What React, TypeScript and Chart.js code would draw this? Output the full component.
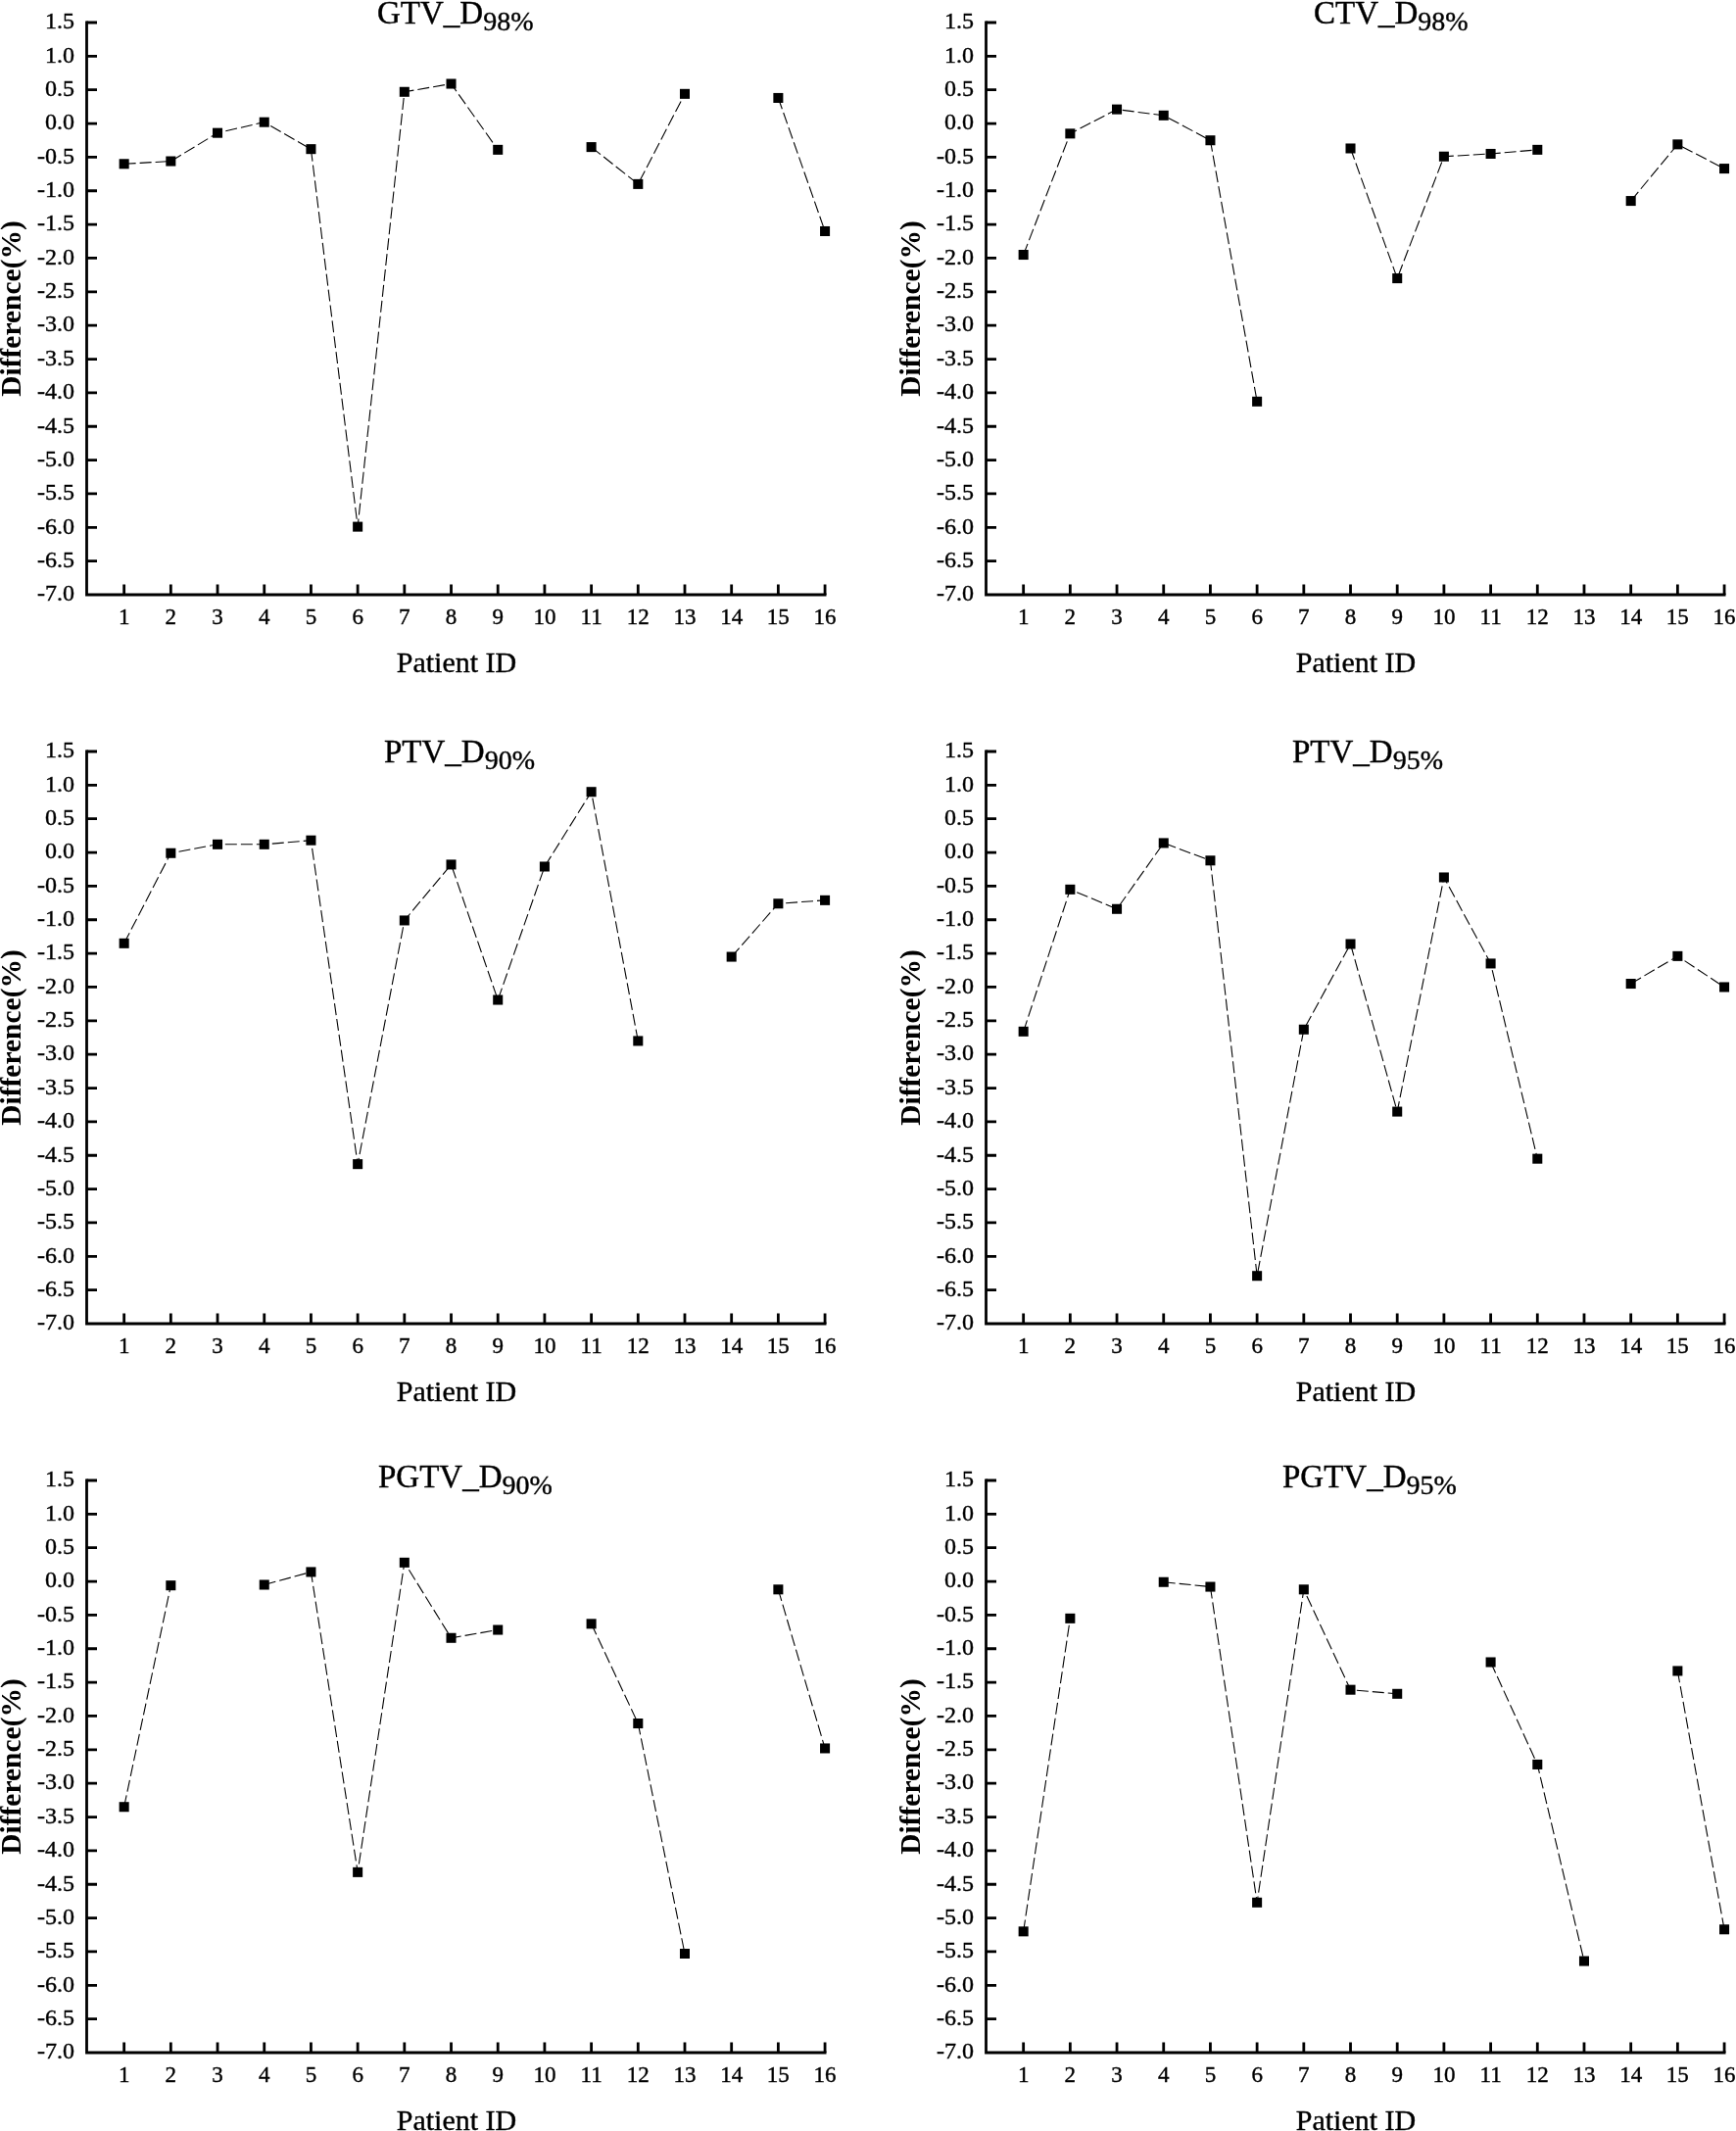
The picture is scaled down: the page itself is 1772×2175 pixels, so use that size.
import { useEffect, useRef } from "react";
import { Chart, registerables } from "chart.js";

Chart.register(...registerables);

// ---- data ----
const patientIds = [1, 2, 3, 4, 5, 6, 7, 8, 9, 10, 11, 12, 13, 14, 15, 16];

const gtvD98 = [-0.6, -0.56, -0.14, 0.02, -0.38, -5.99, 0.47, 0.59, -0.39, null, -0.35, -0.9, 0.44, null, 0.38, -1.6];
const ctvD98 = [-1.95, -0.15, 0.21, 0.12, -0.25, -4.13, null, -0.37, -2.3, -0.49, -0.45, -0.39, null, -1.15, -0.31, -0.67];
const ptvD90 = [-1.35, -0.01, 0.12, 0.12, 0.18, -4.63, -1.01, -0.18, -2.19, -0.21, 0.9, -2.8, null, -1.55, -0.76, -0.71];
const ptvD95 = [-2.66, -0.55, -0.84, 0.14, -0.12, -6.29, -2.63, -1.36, -3.85, -0.37, -1.65, -4.55, null, -1.95, -1.54, -2.0];
const pgtvD90 = [-3.35, -0.06, null, -0.05, 0.14, -4.32, 0.28, -0.84, -0.72, null, -0.63, -2.11, -5.53, null, -0.12, -2.48];
const pgtvD95 = [-5.2, -0.55, null, -0.01, -0.08, -4.77, -0.12, -1.61, -1.67, null, -1.2, -2.72, -5.64, null, -1.33, -5.17];

const Y_MIN = -7.0;
const Y_MAX = 1.5;
const X_MIN = 0.2;
const X_MAX = 16.03;

const FONT = "'Liberation Serif', 'Times New Roman', Times, serif";

// page layout (px)
const COL_X = [0, 886];
const PLOT_LEFT = [88.5, 1006.5];
const PLOT_W = 755;
const PLOT_TOP = [22.7, 766.8, 1510.7];
const PLOT_H = 584;
const CANVAS_W = 900;
const TOP_PAD = 40;
const BOTTOM_H = 100;
const CANVAS_H = TOP_PAD + PLOT_H + BOTTOM_H;

interface PanelSpec {
  main: string;
  sub: string;
  values: (number | null)[];
  col: number;
  row: number;
  titleX: number;
  titleDy: number;
}

const panels: PanelSpec[] = [
  { main: "GTV_D", sub: "98%", values: gtvD98, col: 0, row: 0, titleX: 385, titleDy: 0.5 },
  { main: "CTV_D", sub: "98%", values: ctvD98, col: 1, row: 0, titleX: 1341, titleDy: 0.5 },
  { main: "PTV_D", sub: "90%", values: ptvD90, col: 0, row: 1, titleX: 392, titleDy: 11 },
  { main: "PTV_D", sub: "95%", values: ptvD95, col: 1, row: 1, titleX: 1319, titleDy: 11 },
  { main: "PGTV_D", sub: "90%", values: pgtvD90, col: 0, row: 2, titleX: 386, titleDy: 7 },
  { main: "PGTV_D", sub: "95%", values: pgtvD95, col: 1, row: 2, titleX: 1309, titleDy: 7 },
];

function fillBold(ctx: CanvasRenderingContext2D, text: string, x: number, y: number) {
  ctx.fillText(text, x, y);
  ctx.strokeText(text, x, y);
}

// axes, inward tick marks, titles
function makeDecor(spec: PanelSpec) {
  const cx = COL_X[spec.col];
  return {
    id: "decor",
    afterDraw(chart: Chart) {
      const { ctx, chartArea: a } = chart;
      const xs = chart.scales.x;
      const ys = chart.scales.y;
      ctx.save();
      ctx.strokeStyle = "#000";
      ctx.fillStyle = "#000";
      ctx.lineWidth = 2.8;
      ctx.lineJoin = "miter";
      ctx.beginPath();
      ctx.moveTo(a.left, a.top - 1.4);
      ctx.lineTo(a.left, a.bottom);
      ctx.lineTo(a.right, a.bottom);
      ctx.stroke();

      ctx.beginPath();
      for (let v = Y_MIN + 0.5; v <= Y_MAX + 1e-6; v += 0.5) {
        const y = ys.getPixelForValue(v);
        ctx.moveTo(a.left, y);
        ctx.lineTo(a.left + 10.5, y);
      }
      patientIds.forEach((id) => {
        const x = xs.getPixelForValue(id);
        ctx.moveTo(x, a.bottom);
        ctx.lineTo(x, a.bottom - 10.5);
      });
      ctx.stroke();

      ctx.lineWidth = 0.4;

      // title with subscript
      const tx = spec.titleX - cx;
      const ty = a.top + spec.titleDy;
      ctx.textAlign = "left";
      ctx.textBaseline = "alphabetic";
      ctx.font = `33px ${FONT}`;
      fillBold(ctx, spec.main, tx, ty);
      const w = ctx.measureText(spec.main).width;
      ctx.font = `28px ${FONT}`;
      fillBold(ctx, spec.sub, tx + w, ty + 7);

      // x axis title
      ctx.font = `30px ${FONT}`;
      ctx.textAlign = "center";
      fillBold(ctx, "Patient ID", (a.left + a.right) / 2, a.bottom + 79);

      // y axis title
      ctx.translate(a.left - 75, (a.top + a.bottom) / 2);
      ctx.rotate(-Math.PI / 2);
      ctx.font = `bold 29.5px ${FONT}`;
      ctx.textAlign = "center";
      ctx.textBaseline = "middle";
      ctx.fillText("Difference(%)", 0, 0);
      ctx.restore();
    },
  };
}

function Panel({ spec }: { spec: PanelSpec }) {
  const ref = useRef<HTMLCanvasElement>(null);
  const cx = COL_X[spec.col];
  const cy = PLOT_TOP[spec.row] - TOP_PAD;
  const leftW = PLOT_LEFT[spec.col] - cx;
  const rightPad = CANVAS_W - (leftW + PLOT_W);

  useEffect(() => {
    if (!ref.current) return;
    const chart = new Chart(ref.current, {
      type: "line",
      data: {
        datasets: [
          {
            data: patientIds.map((id, i) => ({ x: id, y: spec.values[i] })),
            borderColor: "#000",
            borderWidth: 1.1,
            borderDash: [12, 4],
            backgroundColor: "#000",
            pointStyle: "rect",
            pointRadius: 7.1,
            pointBorderWidth: 0,
            pointBackgroundColor: "#000",
            spanGaps: false,
            tension: 0,
            clip: false,
          },
        ],
      },
      options: {
        animation: false,
        responsive: false,
        devicePixelRatio: 1,
        layout: { padding: { top: TOP_PAD, left: 0, right: rightPad, bottom: 0 } },
        plugins: {
          legend: { display: false },
          tooltip: { enabled: false },
          title: { display: false },
        },
        scales: {
          x: {
            type: "linear",
            min: X_MIN,
            max: X_MAX,
            grid: { display: false, drawTicks: false },
            border: { display: false },
            ticks: {
              stepSize: 1,
              includeBounds: false,
              autoSkip: false,
              maxRotation: 0,
              padding: 10,
              color: "#000",
              textStrokeColor: "#000",
              textStrokeWidth: 0.4,
              font: { family: FONT, size: 23 },
              callback: (v) => String(v),
            },
            afterFit: (s) => {
              s.height = BOTTOM_H;
            },
          },
          y: {
            min: Y_MIN,
            max: Y_MAX,
            grid: { display: false, drawTicks: false },
            border: { display: false },
            ticks: {
              stepSize: 0.5,
              autoSkip: false,
              padding: 12.5,
              color: "#000",
              textStrokeColor: "#000",
              textStrokeWidth: 0.4,
              font: { family: FONT, size: 24 },
              callback: (v) => {
                const n = Number(v);
                return Math.abs(n) < 1e-9 ? "0.0" : n.toFixed(1);
              },
            },
            afterFit: (s) => {
              s.width = leftW;
            },
          },
        },
      },
      plugins: [makeDecor(spec)],
    });
    return () => chart.destroy();
  }, [spec, leftW, rightPad]);

  return (
    <canvas
      ref={ref}
      width={CANVAS_W}
      height={CANVAS_H}
      style={{ position: "absolute", left: cx, top: cy, width: CANVAS_W, height: CANVAS_H }}
    />
  );
}

export default function App() {
  return (
    <div
      style={{
        position: "absolute",
        left: 0,
        top: 0,
        width: 1772,
        height: 2175,
        overflow: "hidden",
        background: "#fff",
      }}
    >
      {panels.map((p, i) => (
        <Panel key={i} spec={p} />
      ))}
    </div>
  );
}
